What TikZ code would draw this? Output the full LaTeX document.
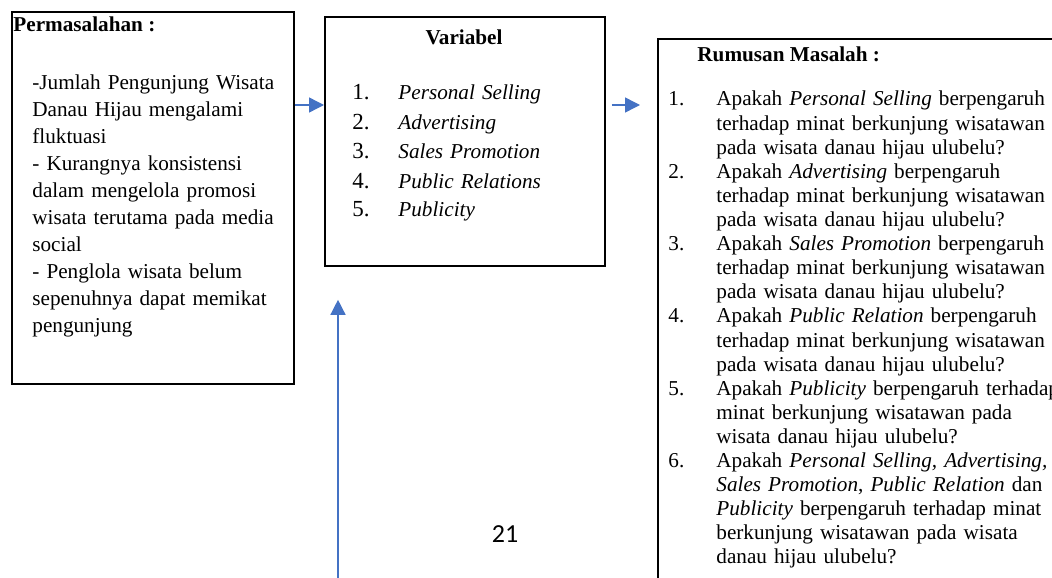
\documentclass[tikz,border=0pt]{standalone}
\usepackage{fontspec}
\setmainfont{Liberation Serif}
\newfontfamily\pagefont{Carlito}
\usepackage{xcolor}
\usetikzlibrary{positioning,arrows.meta}
\definecolor{linkblue}{HTML}{4472C4}

\begin{document}
\begin{tikzpicture}[x=0.5pt, y=-0.5pt,
  frame/.style={draw, line width=0.9pt, inner sep=0pt, anchor=north west},
  txt/.style={anchor=base west, inner sep=0pt, align=left, text width=#1},
  head/.style={anchor=base west, inner sep=0pt, font=\bfseries\fontsize{10.6}{12}\selectfont},
  link/.style={draw=linkblue, line width=0.7pt, -{Triangle[length=7.5pt, width=7.5pt]}, fill=linkblue}]
  \useasboundingbox (0,0) rectangle (1052,577);
  \clip (0,0) rectangle (1052,577);
  % the three boxes
  \node[frame, minimum width=141pt, minimum height=186pt] (prob) at (11,11) {};
  \node[frame, minimum width=140pt, minimum height=124.5pt] (var) at (324,16) {};
  \node[frame, minimum width=210pt, minimum height=281pt] (rum) at (657,38) {};
  % Permasalahan
  \node[head] (probhead) at (13,32) {Permasalahan :};
  \node[txt=130pt, font=\fontsize{10.6}{13.5}\selectfont] (probtext) at (32,90) {\setlength{\baselineskip}{13.5pt}-Jumlah Pengunjung Wisata\\
    Danau Hijau mengalami\\
    fluktuasi\\
    - Kurangnya konsistensi\\
    dalam mengelola promosi\\
    wisata terutama pada media\\
    social\\
    - Penglola wisata belum\\
    sepenuhnya dapat memikat\\
    pengunjung};
  % Variabel
  \node[head, anchor=base] (varhead) at (464,45) {Variabel};
  \node[txt=20pt, font=\fontsize{11.5}{14}\selectfont] (varnum) at (352,100) {\setlength{\baselineskip}{14.75pt}1.\\2.\\3.\\4.\\5.};
  \node[txt=120pt, font=\itshape\fontsize{10.6}{14}\selectfont] (varlist) at (398,100) {\setlength{\baselineskip}{14.75pt}Personal Selling\\
    Advertising\\
    Sales Promotion\\
    Public Relations\\
    Publicity};
  % Rumusan Masalah
  \node[head] (rumhead) at (697,62) {Rumusan Masalah :};
  \node[txt=20pt, font=\fontsize{10.6}{12}\selectfont] (rumnum) at (668,106) {\setlength{\baselineskip}{12.05pt}1.\\[24.1pt]2.\\[24.1pt]3.\\[24.1pt]4.\\[24.1pt]5.\\[24.1pt]6.};
  \node[txt=220pt, font=\fontsize{10.6}{12}\selectfont] (rumtext) at (716,106) {\setlength{\baselineskip}{12.05pt}Apakah \textit{Personal Selling} berpengaruh\\
    terhadap minat berkunjung wisatawan\\
    pada wisata danau hijau ulubelu?\\
    Apakah \textit{Advertising} berpengaruh\\
    terhadap minat berkunjung wisatawan\\
    pada wisata danau hijau ulubelu?\\
    Apakah \textit{Sales Promotion} berpengaruh\\
    terhadap minat berkunjung wisatawan\\
    pada wisata danau hijau ulubelu?\\
    Apakah \textit{Public Relation} berpengaruh\\
    terhadap minat berkunjung wisatawan\\
    pada wisata danau hijau ulubelu?\\
    Apakah \textit{Publicity} berpengaruh terhadap\\
    minat berkunjung wisatawan pada\\
    wisata danau hijau ulubelu?\\
    Apakah \textit{Personal Selling, Advertising,}\\
    \textit{Sales Promotion}, \textit{Public Relation} dan\\
    \textit{Publicity} berpengaruh terhadap minat\\
    berkunjung wisatawan pada wisata\\
    danau hijau ulubelu?};
  % page number
  \node[inner sep=0pt, font=\pagefont\fontsize{13}{15}\selectfont] (pageno) at (505,534) {21};
  % arrows
  \coordinate (row) at (0,105);
  \coordinate (foot) at (338,590);
  \draw[link] (prob.east |- row) -- (var.west |- row);
  \draw[link, shorten <=3pt, shorten >=8.5pt] (var.east |- row) -- (rum.west |- row);
  \draw[link, shorten >=16.5pt] (foot) -- (var.south -| foot);
\end{tikzpicture}
\end{document}
